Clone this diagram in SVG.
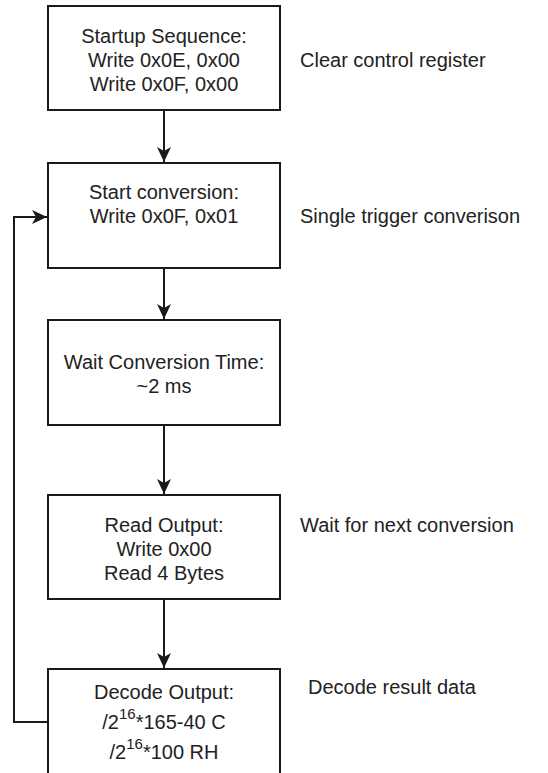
<svg xmlns="http://www.w3.org/2000/svg" width="548" height="773" viewBox="0 0 548 773">
<style>
.box{fill:#ffffff;stroke:#1a1a1a;stroke-width:2}
.t{font-family:"Liberation Sans",Arial,sans-serif;font-size:20px;fill:#222222}
.c{text-anchor:middle}
.conn{fill:none;stroke:#1a1a1a;stroke-width:2}
.sup{font-size:15px}
</style>
<defs>
<marker id="arr" markerUnits="userSpaceOnUse" markerWidth="18" markerHeight="18" viewBox="0 0 18 18" refX="16" refY="9" orient="auto">
<path d="M16,9 L1,2 L5,9 L1,16 Z" fill="#1a1a1a"/>
</marker>
</defs>
<rect width="548" height="773" fill="#ffffff"/>
<g id="connectors">
<path class="conn" d="M164,110 V162" marker-end="url(#arr)"/>
<path class="conn" d="M164,268 V319" marker-end="url(#arr)"/>
<path class="conn" d="M164,425 V494" marker-end="url(#arr)"/>
<path class="conn" d="M164,599 V668" marker-end="url(#arr)"/>
<path class="conn" d="M48,722 H14 V217 H47" marker-end="url(#arr)"/>
</g>
<g id="node-startup">
<rect class="box" x="48" y="6" width="232" height="104"/>
<text class="t c" x="164" y="43">Startup Sequence:</text>
<text class="t c" x="164" y="67">Write 0x0E, 0x00</text>
<text class="t c" x="164" y="91">Write 0x0F, 0x00</text>
</g>
<g id="label-clear"><text class="t" x="300" y="67">Clear control register</text></g>
<g id="node-start">
<rect class="box" x="48" y="163" width="232" height="105"/>
<text class="t c" x="164" y="199">Start conversion:</text>
<text class="t c" x="164" y="223">Write 0x0F, 0x01</text>
</g>
<g id="label-single"><text class="t" x="300" y="223">Single trigger converison</text></g>
<g id="node-wait">
<rect class="box" x="48" y="320" width="232" height="105"/>
<text class="t c" x="164" y="369">Wait Conversion Time:</text>
<text class="t c" x="164" y="393">~2 ms</text>
</g>
<g id="node-read">
<rect class="box" x="48" y="495" width="232" height="104"/>
<text class="t c" x="164" y="532">Read Output:</text>
<text class="t c" x="164" y="556">Write 0x00</text>
<text class="t c" x="164" y="580">Read 4 Bytes</text>
</g>
<g id="label-waitnext"><text class="t" x="300" y="532">Wait for next conversion</text></g>
<g id="node-decode">
<rect class="box" x="48" y="669" width="232" height="106"/>
<text class="t c" x="164" y="699">Decode Output:</text>
<text class="t c" x="164" y="729">/2<tspan class="sup" dy="-10">16</tspan><tspan dy="10">*165-40 C</tspan></text>
<text class="t c" x="164" y="759">/2<tspan class="sup" dy="-10">16</tspan><tspan dy="10">*100 RH</tspan></text>
</g>
<g id="label-decode"><text class="t" x="308" y="694">Decode result data</text></g>
</svg>
